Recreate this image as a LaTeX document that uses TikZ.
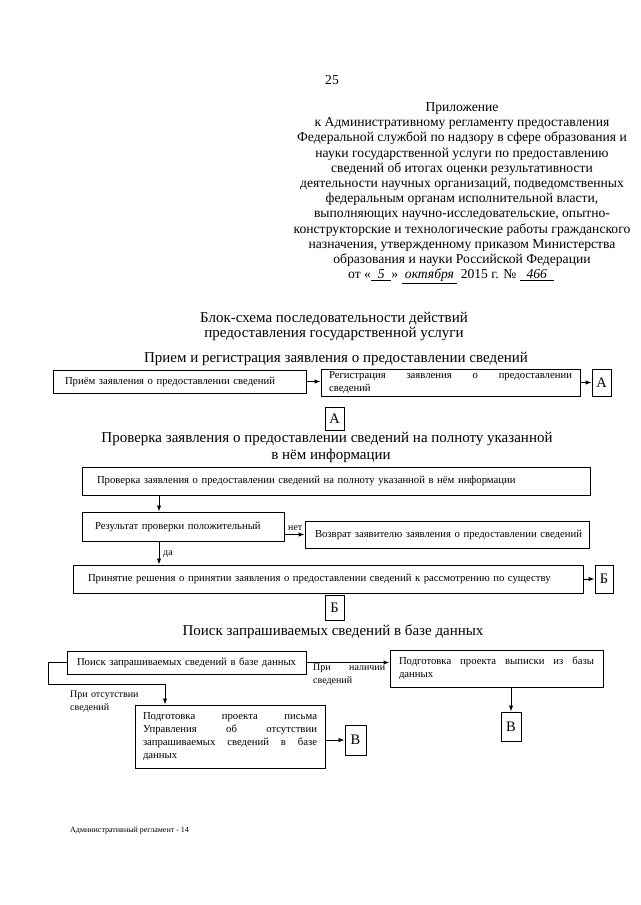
\documentclass[tikz,border=0pt]{standalone}
\usepackage{fontspec}
\setmainfont{Liberation Serif}
\usetikzlibrary{arrows.meta}
\begin{document}
\begin{tikzpicture}[x=1pt,y=-1pt,
  hdr/.style={anchor=base,font=\fontsize{13.6}{15}\selectfont,inner sep=0pt},
  ttl/.style={anchor=base,font=\fontsize{15}{17}\selectfont,inner sep=0pt},
  box/.style={draw,line width=1pt,font=\fontsize{10.7}{13}\selectfont,inner xsep=0pt,inner ysep=0pt,align=left},
  jbox/.style={box,align=justify},
  conn/.style={draw,line width=1pt,font=\fontsize{14.5}{16}\selectfont,inner sep=0pt},
  lbl/.style={font=\fontsize{10}{12.5}\selectfont,inner sep=0pt,align=left,anchor=north west},
  arr/.style={line width=1pt,-{Latex[length=6pt,width=4.5pt]}},
  ln/.style={line width=1pt}]
\useasboundingbox (0,0) rectangle (640,905);
\fill[white] (0,0) rectangle (640,905);
% page number
\node[hdr] (pg) at (332,84) {25};
% header
\foreach \t [count=\i] in {Приложение,
 к Административному регламенту предоставления,
 Федеральной службой по надзору в сфере образования и,
 науки государственной услуги по предоставлению,
 сведений об итогах оценки результативности,
 {деятельности научных организаций, подведомственных},
 {федеральным органам исполнительной власти,},
 {выполняющих научно-исследовательские, опытно-},
 конструкторские и технологические работы гражданского,
 {назначения, утвержденному приказом Министерства},
 образования и науки Российской Федерации}
 {\node[hdr] (h\i) at (462,{111.5+15.2*(\i-1)}) {\t};}
\node[hdr] (hdate) at (451,{111.5+15.2*11}) {от «\underline{\itshape\ \ 5\ \ }» \underline{\itshape\ октября\ } 2015 г. № \underline{\itshape\ \ 466\ \ }};
% titles
\node[ttl] (t1) at (334,322) {Блок-схема последовательности действий};
\node[ttl] (t2) at (334,337.5) {предоставления государственной услуги};
\node[ttl] (t3) at (336,362) {Прием и регистрация заявления о предоставлении сведений};
% row 1
\node[box,minimum width=253pt,minimum height=23pt,text width=229pt] (b1) at (179.5,381.5) {Приём заявления о предоставлении сведений};
\node[jbox,minimum width=259pt,minimum height=27pt,text width=243pt] (b2) at (450.5,382.5) {Регистрация заявления о предоставлении\linebreak сведений};
\node[conn,minimum width=19pt,minimum height=27pt] (A1) at (601.5,382.5) {А};
\draw[arr] (b1.east) -- (b2.west |- b1.east);
\draw[arr] (b2.east) -- (A1.west);
% section 2
\node[conn,minimum width=19pt,minimum height=23pt] (A2) at (334.5,418.5) {А};
\node[ttl] (t4) at (327,442) {Проверка заявления о предоставлении сведений на полноту указанной};
\node[ttl] (t5) at (331,459) {в нём информации};
\node[box,minimum width=508pt,minimum height=28pt,text width=478pt] (b3) at (336,481) {Проверка заявления о предоставлении сведений на полноту указанной в нём информации};
\node[box,minimum width=202pt,minimum height=29pt,text width=176pt] (b4) at (183,526.5) {Результат проверки положительный};
\node[box,minimum width=284pt,minimum height=27pt,text width=276pt] (b5) at (447,534.5) {\hspace*{6pt}Возврат заявителю заявления о предоставлении сведений};
\node[box,minimum width=510pt,minimum height=28pt,text width=480pt] (b6) at (328,579) {Принятие решения о принятии заявления о предоставлении сведений к рассмотрению по существу};
\node[conn,minimum width=18pt,minimum height=28pt] (B1) at (604,579) {Б};
\coordinate (cx) at (159,0);
\draw[arr] (b3.south -| cx) -- (b4.north -| cx);
\draw[arr] (b4.south -| cx) -- (b6.north -| cx);
\draw[arr] (b5.west -| b4.east) -- (b5.west);
\draw[arr] (b6.east) -- (B1.west);
\node[lbl,anchor=base west] (net) at (288,530) {нет};
\node[lbl,anchor=base west] (da) at (163,555) {да};
% section 3
\node[conn,minimum width=19pt,minimum height=25pt] (B2) at (334.5,607.5) {Б};
\node[ttl] (t6) at (333,635) {Поиск запрашиваемых сведений в базе данных};
\node[box,minimum width=239pt,minimum height=23pt,text width=229pt] (b7) at (186.5,662.5) {\hspace*{5pt}Поиск запрашиваемых сведений в базе данных};
\node[jbox,minimum width=213pt,minimum height=37pt,text width=195pt] (b8) at (496.5,668.5) {Подготовка проекта выписки из базы\linebreak данных};
\node[jbox,minimum width=190pt,minimum height=63pt,text width=174pt] (b9) at (230,736.5) {Подготовка проекта письма\linebreak Управления об отсутствии\linebreak запрашиваемых сведений в базе\linebreak данных};
\node[conn,minimum width=21pt,minimum height=30pt] (V1) at (355.5,740) {В};
\node[conn,minimum width=20pt,minimum height=29pt] (V2) at (511,726.5) {В};
\draw[arr] (b7.east) -- (b8.west |- b7.east);
\coordinate (lx) at (48,684);
\coordinate (dx) at (165,0);
\draw[arr] (b7.west) -| (lx) -| (b9.north -| dx);
\draw[arr] (b9.east |- V1.west) -- (V1.west);
\draw[arr] (b8.south -| V2.north) -- (V2.north);
\node[lbl,text width=72pt,align=justify] (lnal) at (313,664) {При наличии\linebreak сведений};
\node[lbl,text width=76pt] (lots) at (70,691) {При отсутствии\\сведений};
% footer
\node[anchor=base west,inner sep=0pt,font=\fontsize{8}{10}\selectfont] (ft) at (70,832) {Административный регламент - 14};
\end{tikzpicture}
\end{document}
